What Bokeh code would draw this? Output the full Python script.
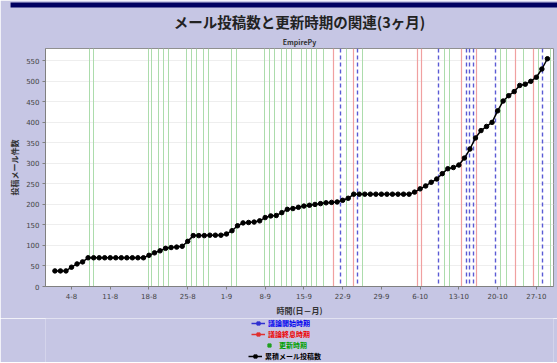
from bokeh.plotting import figure
from bokeh.layouts import column
from bokeh.models import Range1d, FixedTicker, Title, Legend, LegendItem, ColumnDataSource
from bokeh.embed import file_html
from bokeh.resources import INLINE

# day index 0 = 1-Aug
days = list(range(90))
counts = [38, 38, 38, 47, 55, 60,
          70, 70, 70, 70, 70, 70, 70, 70, 70, 70, 70,
          76, 82, 87, 93, 95, 96, 98, 110, 124,
          124, 124, 125, 125, 125,
          128, 136, 148, 155, 156, 157, 160, 168, 172, 173, 180, 188, 190, 193,
          196, 198, 200, 202, 204, 205, 206, 210, 215,
          225, 225, 225, 225, 225, 225, 225, 225, 225, 225, 225,
          230, 238, 245, 254, 262, 275, 287, 290, 296, 313, 335, 362, 380, 390,
          400, 428, 452, 465, 475, 490, 493, 500, 510, 530, 555]

tick_days = [3, 10, 17, 24, 31, 38, 45, 52, 59, 66, 73, 80, 87]
tick_labels = ["4-8", "11-8", "18-8", "25-8", "1-9", "8-9", "15-9",
               "22-9", "29-9", "6-10", "13-10", "20-10", "27-10"]

update_days = [6.2, 7.0, 16.9, 17.4, 18.7, 19.6, 20.5, 23.7, 24.6, 25.5, 26.8, 27.7,
               31.9, 32.8, 37.8, 38.7, 39.6, 40.9, 41.8, 42.7, 44.5, 45.4, 46.3, 47.2,
               48.5, 52.7, 55.5, 70.4, 71.3, 80.5, 81.6, 84.6, 87.3, 89.5]
end_days = [50.3, 53.9, 65.5, 66.2, 73.5, 76.2, 83.2, 86.4]
start_days = [51.6, 54.6, 69.4, 74.4, 75.0, 75.6, 79.6, 88.2]

title_text = "メール投稿数と更新時期の関連(3ヶ月)"
subtitle_text = "EmpirePy"
x_label = "時間(日－月)"
y_label = "投稿メール件数"
legend_labels = ["議論開始時期", "議論終息時期", "更新時期", "累積メール投稿数"]

FONT = "Noto Sans CJK JP"
BG = "#c6c6e4"

p = figure(frame_width=508, frame_height=238, output_backend="svg", toolbar_location=None,
           x_range=Range1d(-1.7, 90.1), y_range=Range1d(0, 580),
           background_fill_color="white", border_fill_color=BG,
           min_border_left=45, min_border_right=4, min_border_top=0, min_border_bottom=0)
p.outline_line_color = "#909090"

p.add_layout(Title(text=subtitle_text, align="center", text_font=FONT,
                   text_font_size="7px", text_font_style="bold", text_color="#333333",
                   standoff=3, offset=-25), "above")
p.add_layout(Title(text=title_text, align="center", text_font=FONT,
                   text_font_size="14.5px", text_font_style="bold", text_color="#222222",
                   standoff=3, offset=-16), "above")
p.add_layout(Title(text="\u00a0" * 520, align="center", text_font_size="4px",
                   background_fill_color="#000060", standoff=0, offset=0), "above")

# vertical marker lines
p.vspan(x=update_days, line_color="#acdcac", line_width=1)
p.vspan(x=end_days, line_color="#f0a0a0", line_width=1.2)
p.vspan(x=start_days, line_color="#5a5ad4", line_width=1.4, line_dash="4 3")

src = ColumnDataSource(dict(x=days, y=counts))
p.line("x", "y", source=src, line_color="black", line_width=1.5)
p.scatter("x", "y", source=src, marker="circle", size=4.5, color="black")

p.xaxis.ticker = FixedTicker(ticks=tick_days)
p.xaxis.major_label_overrides = {d: l for d, l in zip(tick_days, tick_labels)}
p.yaxis.ticker = FixedTicker(ticks=list(range(0, 551, 50)))
p.xaxis.axis_label = x_label
p.yaxis.axis_label = y_label
for ax in (p.xaxis[0], p.yaxis[0]):
    ax.axis_label_text_font = FONT
    ax.axis_label_text_font_style = "bold"
    ax.axis_label_text_color = "#333333"
    ax.major_label_text_font = "DejaVu Sans"
    ax.major_label_text_font_size = "7px"
    ax.major_label_text_color = "#444444"
    ax.axis_line_color = "#808080"
    ax.major_tick_line_color = "#808080"
    ax.minor_tick_line_color = None
    ax.major_tick_out = 3
    ax.major_tick_in = 0
p.xaxis.axis_label_standoff = 3
p.xaxis.major_label_standoff = 3
p.yaxis.axis_label_standoff = 3
p.yaxis.major_label_standoff = 3
p.xaxis.axis_label_text_font_size = "8px"
p.yaxis.axis_label_text_font_size = "8px"
p.xgrid.grid_line_color = None
p.ygrid.grid_line_color = "#eeeeee"

# legend panel (frame aligned with the main plot frame)
p2 = figure(frame_width=508, height=44, output_backend="svg", toolbar_location=None,
            x_range=Range1d(0, 1), y_range=Range1d(0, 1),
            x_axis_type=None, y_axis_type=None,
            min_border_left=45, min_border_right=4, min_border_top=0, min_border_bottom=0,
            background_fill_color=BG, border_fill_color=BG)
p2.outline_line_color = None
p2.grid.visible = False

legend_colors = ["#3030d0", "#e03030", "#20a020", "black"]
legend_text_colors = ["#0000ee", "#ee0000", "#00a000", "black"]
legend_pos = [(206, 34), (206, 23), (217, 12), (203, 1)]
for lab, col, tcol, has_line, pos in zip(legend_labels, legend_colors, legend_text_colors,
                                         [True, True, False, True], legend_pos):
    es = ColumnDataSource(dict(x=[-5], y=[-5]))
    rs = []
    if has_line:
        rs.append(p2.line("x", "y", source=es, line_color=col, line_width=1.5))
    rs.append(p2.scatter("x", "y", source=es, marker="square", size=5, color=col))
    leg = Legend(items=[LegendItem(label=lab, renderers=rs)], location=pos,
                 orientation="horizontal", label_text_color=tcol,
                 label_text_font=FONT, label_text_font_size="7px",
                 label_text_font_style="bold", glyph_width=14, glyph_height=8,
                 label_height=8, label_standoff=3, padding=0, spacing=0, margin=0,
                 border_line_color=None, background_fill_alpha=0)
    p2.add_layout(leg, "center")

layout = column(p, p2, spacing=0)
open("out.html", "w").write(file_html(layout, INLINE))
